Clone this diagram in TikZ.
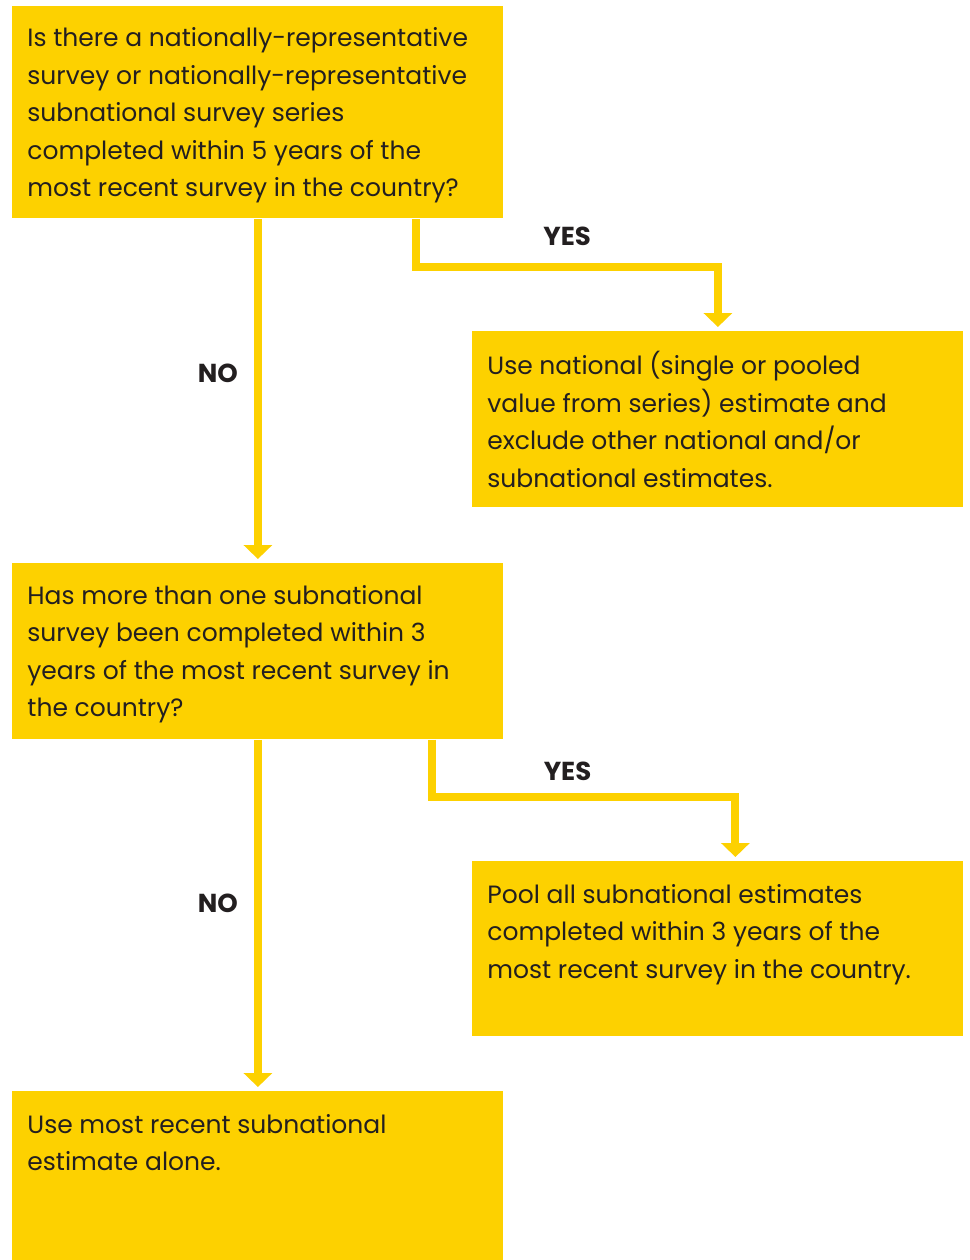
\documentclass[tikz,border=0pt]{standalone}
\usepackage{fontspec}
\setmainfont{Poppins}
\usetikzlibrary{arrows.meta, positioning}
\definecolor{flowyellow}{RGB}{253,209,0}
\definecolor{flowtext}{RGB}{35,31,32}

\begin{document}
\begin{tikzpicture}[x=0.5pt, y=-0.5pt,
    stepbox/.style={fill=flowyellow, minimum width=245.5pt, anchor=north west,
                    inner sep=0pt},
    boxtext/.style={text=flowtext, align=left, inner sep=0pt,
                    font=\fontsize{12.5}{18.75}\selectfont},
    lbl/.style={text=flowtext, inner sep=0pt,
                font=\bfseries\fontsize{13}{15}\selectfont},
    arr/.style={draw=flowyellow, line width=4pt,
                -{Triangle[width=14pt,length=7pt]}, shorten >=2pt},
  ]
    \useasboundingbox (0,0) rectangle (970,1260);

    % boxes
    \node[stepbox, minimum height=106pt] (q1) at (12,6) {};
    \node[stepbox, minimum height=88pt]  (a1) at (472,331) {};
    \node[stepbox, minimum height=88pt]  (q2) at (12,563) {};
    \node[stepbox, minimum height=87.5pt] (a2) at (472,861) {};
    \node[stepbox, minimum height=86pt]  (res) at (12,1091) {};

    % texts
    \node[boxtext, below right=10.75pt and 7.5pt of q1.north west] (q1t)
      {Is there a nationally-representative\\survey or nationally-representative\\subnational survey series\\completed within 5 years of the\\most recent survey in the country?};
    \node[boxtext, below right=10pt and 7.5pt of a1.north west] (a1t)
      {Use national (single or pooled\\value from series) estimate and\\exclude other national and/or\\subnational estimates.};
    \node[boxtext, below right=11pt and 7.5pt of q2.north west] (q2t)
      {Has more than one subnational\\survey been completed within 3\\years of the most recent survey in\\the country?};
    \node[boxtext, below right=11.5pt and 7.5pt of a2.north west] (a2t)
      {Pool all subnational estimates\\completed within 3 years of the\\most recent survey in the country.};
    \node[boxtext, below right=11.5pt and 7.5pt of res.north west] (rest)
      {Use most recent subnational\\estimate alone.};

    % connectors
    \draw[arr] (q1) -- node[lbl, left=8pt, pos=0.45] (no1) {NO} (q2);
    \draw[arr] (q2) -- node[lbl, left=8pt, pos=0.466] (no2) {NO} (res);
    \draw[arr] ([xshift=79.25pt]q1.south) -- ++(0,-24pt)
      -| node[lbl, pos=0.25, above=8.5pt] (yes1) {YES} (a1.north);
    \draw[arr] ([xshift=87.25pt]q2.south) -- ++(0,-28.5pt)
      -| node[lbl, pos=0.223, above=6pt] (yes2) {YES} ([xshift=8.75pt]a2.north);
  \end{tikzpicture}
\end{document}
